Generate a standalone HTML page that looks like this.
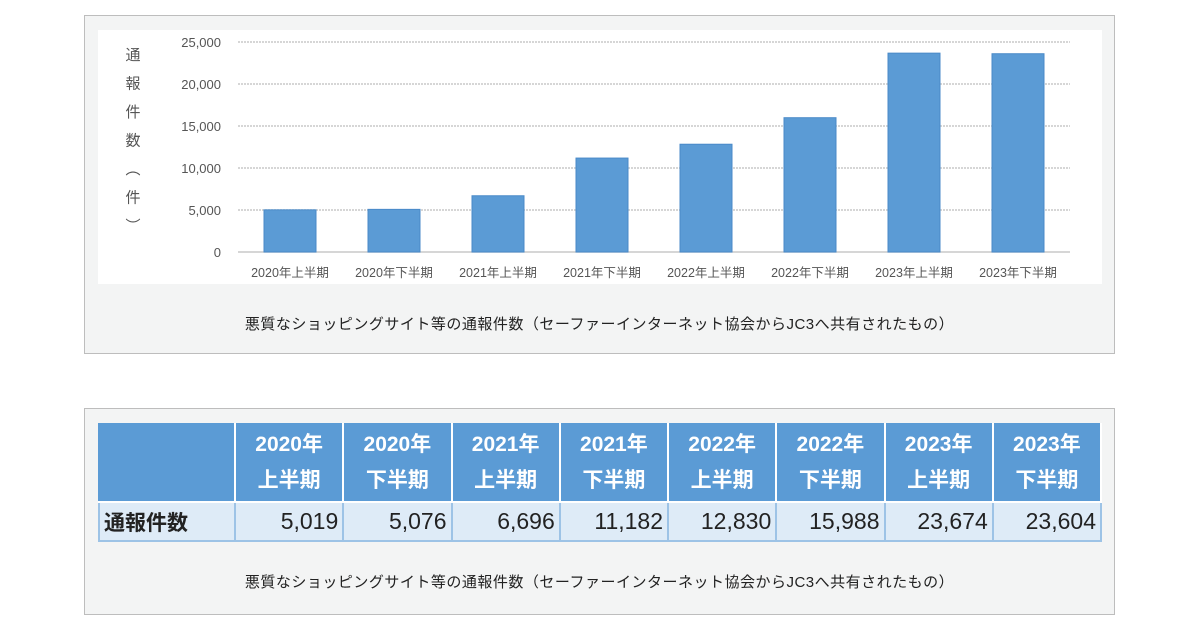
<!DOCTYPE html>
<html><head><meta charset="utf-8"><style>
body{margin:0;width:1200px;height:630px;background:#fff;position:relative;font-family:"Liberation Sans","Noto Sans CJK JP",sans-serif;overflow:hidden}
.panel{position:absolute;left:84px;width:1031px;background:#f3f4f4;border:1px solid #bdbdbd;box-sizing:border-box}
.cap{position:absolute;left:0;width:100%;text-align:center;font-size:15px;color:#222;letter-spacing:0.5px}
table{position:absolute;left:98px;top:423px;width:1004px;table-layout:fixed;border-collapse:collapse;border:2px solid #5b9bd5}
th{background:#5b9bd5;color:#fff;font-size:21px;font-weight:bold;line-height:36px;border:2px solid #fff;border-top:none;padding:2px 0;text-align:center}
th.first{border-left:none}
td{background:#deebf7;border:2px solid #9dc3e6;font-size:23px;text-align:right;padding:0 4px;height:37px;color:#222}
td.first{text-align:left;font-weight:bold;font-size:21px}
</style></head><body>
<div class="panel" style="top:15px;height:339px">
<div class="cap" style="top:297px">悪質なショッピングサイト等の通報件数（セーファーインターネット協会からJC3へ共有されたもの）</div>
</div>
<svg id="chart" style="position:absolute;left:98px;top:30px" width="1004" height="254"></svg>
<div class="panel" style="top:408px;height:207px">
<div class="cap" style="top:162px">悪質なショッピングサイト等の通報件数（セーファーインターネット協会からJC3へ共有されたもの）</div>
</div>
<table>
<colgroup><col style="width:136px"><col><col><col><col><col><col><col><col></colgroup>
<tr><th class="first"></th>
<th>2020年<br>上半期</th><th>2020年<br>下半期</th><th>2021年<br>上半期</th><th>2021年<br>下半期</th><th>2022年<br>上半期</th><th>2022年<br>下半期</th><th>2023年<br>上半期</th><th>2023年<br>下半期</th></tr>
<tr><td class="first">通報件数</td><td>5,019</td><td>5,076</td><td>6,696</td><td>11,182</td><td>12,830</td><td>15,988</td><td>23,674</td><td>23,604</td></tr>
</table>
<script>
const categories=["2020年上半期","2020年下半期","2021年上半期","2021年下半期","2022年上半期","2022年下半期","2023年上半期","2023年下半期"];
const values=[5019,5076,6696,11182,12830,15988,23674,23604];
const ticks=[0,5000,10000,15000,20000,25000];
const tickLabels=["0","5,000","10,000","15,000","20,000","25,000"];
const NS="http://www.w3.org/2000/svg";
const svg=document.getElementById("chart");
svg.innerHTML='<rect width="1004" height="254" fill="#fff"/>';
const x0=140,x1=972,yb=222,yt=12,maxV=25000;
const y=v=>yb-(yb-yt)*v/maxV;
const step=(x1-x0)/categories.length;
const xc=i=>x0+step*(i+0.5);
function mk(t,a){const e=document.createElementNS(NS,t);for(const k in a)e.setAttribute(k,a[k]);svg.appendChild(e);return e;}
ticks.forEach((t,i)=>{
 const l=mk("line",{x1:x0,x2:x1,y1:y(t),y2:y(t),stroke:"#c8c8c8","stroke-width":1.5,"stroke-dasharray":t?"2,1":""});
 
 
 const tx=mk("text",{x:123,y:y(t)+5,"text-anchor":"end","font-size":13,fill:"#555"});
 tx.textContent=tickLabels[i];
 
 
});
values.forEach((v,i)=>{
 const r=mk("rect",{x:xc(i)-26,y:y(v),width:52,height:yb-y(v),fill:"#5b9bd5",stroke:"#4a8ac8","stroke-width":1});
 
 
 const t=mk("text",{x:xc(i),y:247,"text-anchor":"middle","font-size":12.5,fill:"#555"});
 t.textContent=categories[i];
 
 
});
const ylab=["通","報","件","数","︵","件","︶"];
ylab.forEach((c,i)=>{
 const t=mk("text",{x:35,y:30+i*28.5,"text-anchor":"middle","font-size":15,fill:"#555"});
 t.textContent=c;
 
 
});
</script>
</body></html>
